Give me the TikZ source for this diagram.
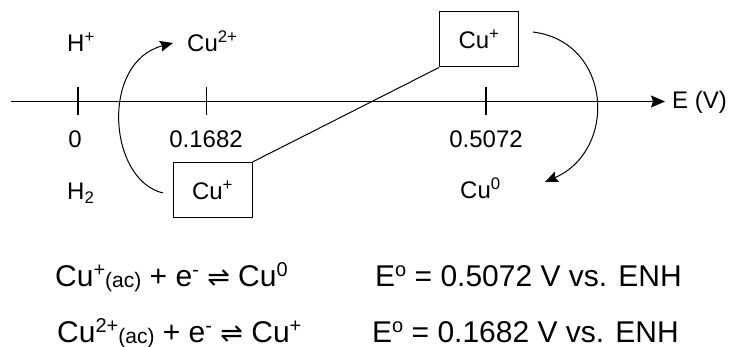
\documentclass[tikz,border=0pt]{standalone}
\usepackage{fontspec}
\setmainfont{Liberation Sans}
\newfontfamily\symfont{DejaVu Sans}
\usetikzlibrary{arrows.meta}
\newcommand\eqsub[1]{\raisebox{-1pt}{\fontsize{21}{24}\selectfont #1}}
\newcommand\eqsup[1]{\raisebox{10pt}{\fontsize{20}{24}\selectfont #1}}
\newcommand\eqharp{{\symfont\fontsize{27}{30}\selectfont ⇌}}
\tikzset{
  lbl/.style={font=\fontsize{24}{28}\selectfont, inner sep=0pt},
  eqn/.style={font=\fontsize{30}{36}\selectfont, inner sep=0pt},
  cubox/.style={draw, line width=1pt, inner sep=0pt, minimum width=79pt, minimum height=55pt, font=\fontsize{24}{28}\selectfont},
  axisline/.style={line width=1.2pt, -{Stealth[length=14pt,width=12pt,inset=2pt]}},
  tick/.style={line width=1.1pt},
  curvearrow/.style={line width=1pt, -{Stealth[length=13pt,width=11pt,inset=2pt]}},
  conn/.style={line width=1pt}
}
\begin{document}
\begin{tikzpicture}[x=1pt,y=-1pt]
\useasboundingbox (0,0) rectangle (733,347);
% axis
\coordinate (a0) at (11,101.5);
\coordinate (a1) at (665,101.5);
\draw[axisline] (a0) -- (a1);
\node[lbl, anchor=base west] (ev) at (672,109) {E (V)};
% ticks
\draw[tick] (78,87) -- (78,115);
\draw[tick] (206.5,87) -- (206.5,115);
\draw[tick] (486,87) -- (486,115);
% labels
\node[lbl, anchor=base west] (hp) at (67,52) {H\textsuperscript{+}};
\node[lbl, anchor=base west] (cu2) at (187,52) {Cu\textsuperscript{2+}};
\node[lbl, anchor=base] (z0) at (75,148) {0};
\node[lbl, anchor=base] (z1) at (206,148) {0.1682};
\node[lbl, anchor=base] (z2) at (486,148) {0.5072};
\node[lbl, anchor=base west] (h2) at (67,200) {H\textsubscript{2}};
\node[lbl, anchor=base west] (cu0) at (460,199) {Cu\textsuperscript{0}};
% boxes
\node[cubox] (low) at (212.5,190) {Cu\textsuperscript{+}};
\node[cubox] (up) at (479,39.5) {Cu\textsuperscript{+}};
\draw[conn] (up.south west) -- (low.north east);
% curved arrows
\coordinate (l0) at (163,193);
\coordinate (l1) at (173,43);
\draw[curvearrow] (l0) .. controls (108,180) and (100,62) .. (l1);
\coordinate (r0) at (533,32);
\coordinate (r1) at (545,182);
\draw[curvearrow] (r0) .. controls (612,42) and (618,150) .. (r1);
% equations
\node[eqn, anchor=base west] (eqa) at (55,287) {Cu\eqsup{+}\eqsub{(ac)} + e\eqsup{-} \eqharp{} Cu\eqsup{0}};
\node[eqn, anchor=base west] (eqb) at (375,287) {E\eqsup{o} = 0.5072 V vs. ENH};
\node[eqn, anchor=base west] (eqc) at (57,342) {Cu\eqsup{2+}\eqsub{(ac)} + e\eqsup{-} \eqharp{} Cu\eqsup{+}};
\node[eqn, anchor=base west] (eqd) at (372,342) {E\eqsup{o} = 0.1682 V vs. ENH};
\end{tikzpicture}
\end{document}
